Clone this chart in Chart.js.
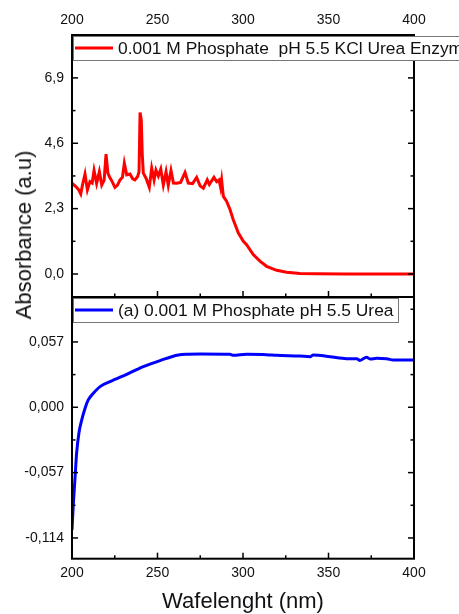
<!DOCTYPE html>
<html>
<head>
<meta charset="utf-8">
<script src="https://cdn.jsdelivr.net/npm/chart.js@4.4.1/dist/chart.umd.min.js"></script>
<style>
  body { margin: 0; background: #fff; }
  #wrap { position: relative; width: 459px; height: 614px; overflow: hidden; }
  canvas { position: absolute; left: 0; }
  #topChart { top: 0; }
  #botChart { top: 295px; }
  #ytitle {
    position: absolute; left: 24px; top: 235px;
    transform: translate(-50%, -50%) rotate(-90deg);
    font: 22px "Liberation Sans", Arial, sans-serif; color: #111; white-space: nowrap;
  }
</style>
</head>
<body>
<div id="wrap">
  <canvas id="topChart" width="459" height="299"></canvas>
  <canvas id="botChart" width="459" height="319"></canvas>
  <div id="ytitle">Absorbance (a.u)</div>
</div>
<script>
// wavelength axis
const xMajor = [200, 250, 300, 350, 400];
const xMinor = [225, 275, 325, 375];

// top panel: 0.001 M Phosphate pH 5.5 KCl Urea Enzyme
const topLabel = "0.001 M Phosphate  pH 5.5 KCl Urea Enzyme";
const topTicks = [0, 2.3, 4.6, 6.9];
const topMinor = [1.15, 3.45, 5.75, 8.05];
const redX = [200, 200.8, 202.7, 204, 205.1, 206.2, 207.6, 209, 210.5, 211.8, 212.9, 214.4, 216, 217.4, 218.8, 219.9,
  221, 221.8, 223.5, 225.1, 226.5, 228.1, 229.5, 230.6, 232, 233.9, 235.5, 236.8, 238.4, 239.2, 239.8, 240.5, 241.1,
  241.7, 243.3, 245.2, 246.6, 248, 249.1, 250.5, 251.9, 253.4, 255, 256.3, 257.9, 259.3, 261.2, 263.5, 266.1, 268,
  270.5, 272.9, 274.9, 276.8, 279.1, 280.3, 283, 284.6, 286, 286.9, 287.5, 288.5, 290.4, 292.4, 294.3, 297.3, 300.2,
  302.1, 306, 309.9, 313.8, 319.7, 325.5, 333.3, 343.1, 360, 380, 400];
const redY = [3.20, 3.15, 3.05, 2.95, 2.82, 3.15, 3.52, 2.96, 3.25, 3.20, 3.64, 3.19, 3.60, 3.13, 3.30, 4.22,
  3.55, 3.43, 3.25, 3.05, 3.12, 3.31, 3.40, 3.90, 3.49, 3.52, 3.35, 3.31, 3.43, 3.60, 5.68, 5.42, 4.20,
  3.55, 3.37, 3.05, 3.72, 3.31, 3.66, 3.45, 3.69, 3.13, 3.60, 3.12, 3.64, 3.20, 3.19, 3.22, 3.57, 3.20,
  3.18, 3.40, 3.10, 3.02, 3.31, 3.15, 3.40, 3.25, 3.31, 3.05, 3.30, 2.73, 2.56, 2.27, 1.91, 1.44, 1.15,
  1.03, 0.68, 0.45, 0.27, 0.13, 0.06, 0.02, 0.005, 0, 0, 0];

// bottom panel: (a) 0.001 M Phosphate pH 5.5 Urea
const botLabel = "(a) 0.001 M Phosphate pH 5.5 Urea";
const botTicks = [-0.114, -0.057, 0, 0.057];
const botMinor = [-0.0855, -0.0285, 0.0285, 0.0855];
const blueX = [200, 200.8, 201.8, 202.7, 204.1, 205.7, 207.6, 209.5, 212.5, 216.4, 222.2, 232, 241.7, 251.5, 262.2,
  268, 274.9, 292.4, 294.3, 302.1, 313.8, 319.7, 333.3, 339.2, 341.1, 350.9, 360.6, 366.5, 368.4,
  372.3, 374.3, 378.2, 384, 387.9, 400];
const blueY = [-0.107, -0.084, -0.061, -0.040, -0.022, -0.011, -0.001, 0.0064, 0.0122, 0.0180, 0.0223, 0.0288,
  0.0354, 0.0407, 0.0456, 0.0463, 0.0465, 0.0462, 0.0453, 0.0462, 0.0459, 0.0453, 0.0447, 0.0441,
  0.0456, 0.0441, 0.0424, 0.0424, 0.0409, 0.0436, 0.0421, 0.0427, 0.0424, 0.0412, 0.0412];

Chart.defaults.font.family = "'Liberation Sans', Arial, sans-serif";
Chart.defaults.color = "#111";

let toPoints = (xs, ys) => xs.map((x, i) => ({ x: x, y: ys[i] }));
let comma = (d) => (v) => v.toFixed(d).replace(".", ",");

// frame with inward major/minor ticks on all four sides
let framePlugin = {
  id: "frame",
  afterDatasetsDraw(chart, args, opts) {
    let { ctx, chartArea: a } = chart;
    let xs = chart.scales.x, ys = chart.scales.y;
    let line = (x1, y1, x2, y2) => { ctx.beginPath(); ctx.moveTo(x1, y1); ctx.lineTo(x2, y2); ctx.stroke(); };
    ctx.save();
    ctx.strokeStyle = "#000";
    ctx.lineWidth = 1.5;
    let xt = (vals, len) => vals.forEach((v) => {
      let p = xs.getPixelForValue(v);
      line(p, a.bottom, p, a.bottom - len);
      line(p, a.top, p, a.top + len);
    });
    let yt = (vals, len) => vals.forEach((v) => {
      let p = ys.getPixelForValue(v);
      if (p < a.top || p > a.bottom) return;
      line(a.left, p, a.left + len, p);
      line(a.right, p, a.right - len, p);
    });
    xt(xMajor, 6); xt(xMinor, 3.5);
    yt(opts.major, 6); yt(opts.minor, 3.5);
    ctx.lineWidth = 2;
    ctx.strokeRect(a.left, a.top, a.right - a.left, a.bottom - a.top);
    ctx.restore();
  },
};

// boxed legend sitting at the top-left corner of the panel
let boxLegend = {
  id: "boxLegend",
  afterDatasetsDraw(chart, args, opts) {
    let { ctx, chartArea: a } = chart;
    let ds = chart.data.datasets[0];
    let h = 25;
    ctx.save();
    ctx.fillStyle = "#fff";
    ctx.fillRect(a.left + 1, a.top + 1, opts.width, h);
    ctx.strokeStyle = "#777";
    ctx.lineWidth = 1;
    ctx.strokeRect(a.left + 1.5, a.top + 1.5, opts.width, h - 1);
    ctx.strokeStyle = ds.borderColor;
    ctx.lineWidth = 3;
    ctx.beginPath();
    ctx.moveTo(a.left + 3, a.top + 13);
    ctx.lineTo(a.left + 41, a.top + 13);
    ctx.stroke();
    ctx.fillStyle = "#111";
    ctx.font = "17.4px 'Liberation Sans', Arial, sans-serif";
    ctx.textBaseline = "middle";
    ctx.fillText(ds.label, a.left + 46, a.top + 14);
    ctx.restore();
  },
};

let baseOpts = (xPos, yMin, yMax, ticks, digits, xHeight) => ({
  responsive: false,
  animation: false,
  events: [],
  plugins: { legend: { display: false }, tooltip: { enabled: false } },
  scales: {
    x: {
      type: "linear",
      position: xPos,
      min: 200,
      max: 400,
      grid: { display: false, drawTicks: false },
      border: { display: false },
      afterBuildTicks: (s) => { s.ticks = xMajor.map((v) => ({ value: v })); },
      ticks: { font: { size: 14 }, padding: 6, maxRotation: 0, callback: (v) => String(v) },
      afterFit: (s) => { s.height = xHeight; s.paddingLeft = 0; s.paddingRight = 0; },
    },
    y: {
      type: "linear",
      min: yMin,
      max: yMax,
      grid: { display: false, drawTicks: false },
      border: { display: false },
      afterBuildTicks: (s) => { s.ticks = ticks.map((v) => ({ value: v })); },
      ticks: { font: { size: 14 }, padding: 8, callback: comma(digits) },
      afterFit: (s) => { s.width = 72; s.paddingTop = 0; s.paddingBottom = 0; },
    },
  },
});

let topOpts = baseOpts("top", -0.81, 8.41, topTicks, 1, 35);
topOpts.layout = { padding: { left: 0, right: 45, top: 0, bottom: 2 } };
topOpts.plugins.frame = { major: topTicks, minor: topMinor };
topOpts.plugins.boxLegend = { width: 460 };

let topChart = new Chart(document.getElementById("topChart").getContext("2d"), {
  type: "line",
  data: {
    datasets: [{
      label: topLabel,
      data: toPoints(redX, redY),
      borderColor: "rgb(255, 0, 0)",
      borderWidth: 3,
      pointRadius: 0,
      tension: 0,
      fill: false,
    }],
  },
  options: topOpts,
  plugins: [framePlugin, boxLegend],
});

let botOpts = baseOpts("bottom", -0.1321, 0.0962, botTicks, 3, 55.3);
botOpts.layout = { padding: { left: 0, right: 45, top: 2, bottom: 0 } };
botOpts.plugins.frame = { major: botTicks, minor: botMinor };
botOpts.plugins.boxLegend = { width: 325 };
botOpts.scales.x.title = {
  display: true,
  text: "Wafelenght (nm)",
  font: { size: 22, lineHeight: 1.1 },
  padding: { top: 0, bottom: 0 },
};

let botChart = new Chart(document.getElementById("botChart").getContext("2d"), {
  type: "line",
  data: {
    datasets: [{
      label: botLabel,
      data: toPoints(blueX, blueY),
      borderColor: "rgb(0, 0, 255)",
      borderWidth: 3,
      pointRadius: 0,
      cubicInterpolationMode: "monotone",
      fill: false,
    }],
  },
  options: botOpts,
  plugins: [framePlugin, boxLegend],
});
</script>
</body>
</html>
